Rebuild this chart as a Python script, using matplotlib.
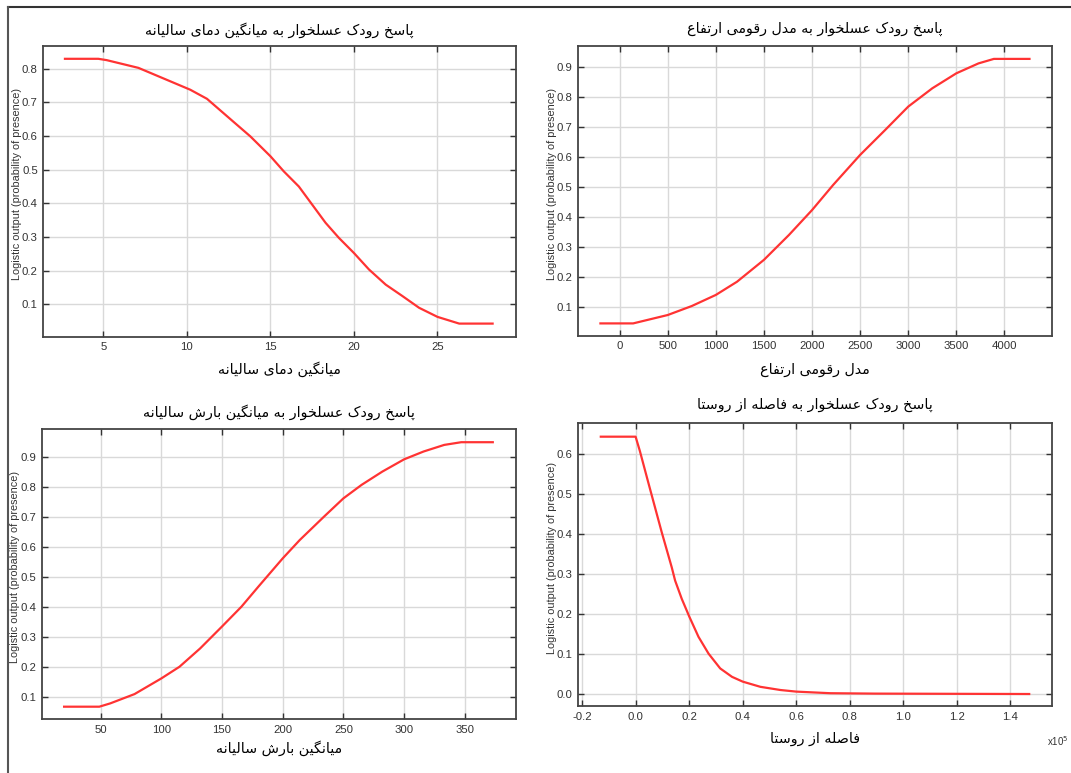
import numpy as np
import matplotlib
matplotlib.use("Agg")
import matplotlib.pyplot as plt
from matplotlib.ticker import FuncFormatter

# ---- data ----
temp_x = [2.7, 4.7, 5.2, 7.1, 10.2, 11.2, 12.8, 13.8, 15.0, 15.8, 16.7, 17.5,
          18.3, 19.1, 20.0, 20.9, 21.9, 22.9, 23.9, 25.0, 26.3, 28.3]
temp_y = [0.83, 0.83, 0.826, 0.803, 0.738, 0.711, 0.642, 0.599, 0.54, 0.495,
          0.45, 0.396, 0.342, 0.297, 0.252, 0.203, 0.158, 0.124, 0.089, 0.062, 0.042, 0.042]

dem_x = [-200, 140, 500, 750, 1000, 1220, 1500, 1760, 2000, 2220, 2500, 2760, 3000,
         3250, 3500, 3730, 3890, 4260]
dem_y = [0.044, 0.044, 0.072, 0.102, 0.139, 0.183, 0.256, 0.339, 0.422, 0.506, 0.606,
         0.689, 0.767, 0.828, 0.878, 0.911, 0.926, 0.926]

rain_x = [20, 49, 58, 78, 100, 115, 132, 150, 166, 180, 200, 214, 234, 250, 265, 282,
          300, 316, 333, 347, 373]
rain_y = [0.069, 0.069, 0.08, 0.111, 0.163, 0.202, 0.263, 0.336, 0.402, 0.469, 0.563,
          0.624, 0.702, 0.763, 0.808, 0.852, 0.893, 0.919, 0.941, 0.95, 0.95]

dist_x = [-13000, 0, 1600, 4750, 7250, 9750, 13500, 14750, 17250, 20100, 23500, 27250,
          31600, 36000, 40000, 46600, 54100, 60000, 72700, 89400, 147000]
dist_y = [0.644, 0.644, 0.608, 0.529, 0.467, 0.405, 0.317, 0.284, 0.238, 0.193, 0.143,
          0.101, 0.064, 0.043, 0.031, 0.018, 0.010, 0.006, 0.002, 0.001, 0.0]

ylab = "Logistic output (probability of presence)"


# ---- tiny persian shaper (no arabic_reshaper here) ----
# letter: (isolated, final, initial, medial)
FORMS = {
    'ا': (0xFE8D, 0xFE8E, None, None), 'ب': (0xFE8F, 0xFE90, 0xFE91, 0xFE92),
    'پ': (0xFB56, 0xFB57, 0xFB58, 0xFB59), 'ت': (0xFE95, 0xFE96, 0xFE97, 0xFE98),
    'خ': (0xFEA5, 0xFEA6, 0xFEA7, 0xFEA8), 'د': (0xFEA9, 0xFEAA, None, None),
    'ر': (0xFEAD, 0xFEAE, None, None), 'ز': (0xFEAF, 0xFEB0, None, None),
    'س': (0xFEB1, 0xFEB2, 0xFEB3, 0xFEB4), 'ش': (0xFEB5, 0xFEB6, 0xFEB7, 0xFEB8),
    'ص': (0xFEB9, 0xFEBA, 0xFEBB, 0xFEBC), 'ع': (0xFEC9, 0xFECA, 0xFECB, 0xFECC),
    'ف': (0xFED1, 0xFED2, 0xFED3, 0xFED4), 'ق': (0xFED5, 0xFED6, 0xFED7, 0xFED8),
    'ک': (0xFB8E, 0xFB8F, 0xFB90, 0xFB91), 'گ': (0xFB92, 0xFB93, 0xFB94, 0xFB95),
    'ل': (0xFEDD, 0xFEDE, 0xFEDF, 0xFEE0), 'م': (0xFEE1, 0xFEE2, 0xFEE3, 0xFEE4),
    'ن': (0xFEE5, 0xFEE6, 0xFEE7, 0xFEE8), 'و': (0xFEED, 0xFEEE, None, None),
    'ه': (0xFEE9, 0xFEEA, 0xFEEB, 0xFEEC), 'ی': (0xFBFC, 0xFBFD, 0xFBFE, 0xFBFF),
}


def fa(s):
    out = []
    for i, c in enumerate(s):
        if c not in FORMS:
            out.append(c)
            continue
        prev = s[i - 1] if i > 0 else ' '
        nxt = s[i + 1] if i + 1 < len(s) else ' '
        jp = prev in FORMS and FORMS[prev][2] is not None
        jn = nxt in FORMS and FORMS[c][2] is not None
        f = FORMS[c]
        if jp and jn:
            g = f[3]
        elif jp:
            g = f[1]
        elif jn:
            g = f[2]
        else:
            g = f[0]
        out.append(chr(g))
    return ''.join(out[::-1])


plt.rcParams['font.family'] = ['Liberation Sans', 'DejaVu Sans']
fig = plt.figure(figsize=(10.71, 7.73), dpi=100)

# box = left, top, right, bottom in pixels; ty / xy = title / xlabel centre in pixels
panels = [
    (temp_x, temp_y, "پاسخ رودک عسلخوار به میانگین دمای سالیانه", "میانگین دمای سالیانه",
     [43.4, 45.7, 515.5, 336.7], 30, 369, (1.41, 29.67), (0.003, 0.869),
     [5, 10, 15, 20, 25], np.arange(0.1, 0.85, 0.1)),
    (dem_x, dem_y, "پاسخ رودک عسلخوار به مدل رقومی ارتفاع", "مدل رقومی ارتفاع",
     [578.3, 45.7, 1051.7, 335.7], 28.3, 370, (-430, 4491), (0.003, 0.97),
     np.arange(0, 4001, 500), np.arange(0.1, 0.95, 0.1)),
    (rain_x, rain_y, "پاسخ رودک عسلخوار به میانگین بارش سالیانه", "میانگین بارش سالیانه",
     [42, 429, 515.5, 719.3], 411.7, 748.3, (1.8, 391.7), (0.027, 0.994),
     np.arange(50, 351, 50), np.arange(0.1, 0.95, 0.1)),
    (dist_x, dist_y, "پاسخ رودک عسلخوار به فاصله از روستا", "فاصله از روستا",
     [578.3, 422.7, 1051.7, 706], 405, 739, (-21400, 155400), (-0.030, 0.679),
     np.arange(-20000, 140001, 20000), np.arange(0.0, 0.65, 0.1)),
]

W, H = 1071, 773
for i, (x, y, title, xl, box, ty, xy, xlim, ylim, xt, yt) in enumerate(panels):
    l, t, r, b = box
    w, h = r - l, b - t
    ax = fig.add_axes([l / W, 1 - b / H, w / W, h / H])
    ax.plot(x, y, color='#ff3333', lw=1.6)
    ax.set_xlim(*xlim)
    ax.set_ylim(*ylim)
    ax.set_xticks(xt)
    ax.set_yticks(yt)
    ax.grid(True, color='#d9d9d9', lw=1.0)
    ax.set_axisbelow(True)
    ax.tick_params(direction='in', length=4, width=1, color='#333333',
                   labelsize=8.2, labelcolor='#333333', top=True, right=True, pad=4)
    for sp in ax.spines.values():
        sp.set_color('#444444')
        sp.set_linewidth(1.3)
    ax.yaxis.set_major_formatter(FuncFormatter(lambda v, p: "%.1f" % v))
    if i == 3:
        ax.xaxis.set_major_formatter(FuncFormatter(lambda v, p: "%.1f" % (v / 1e5)))
    ax.text(0.5, 1 + (t - ty) / h, fa(title), transform=ax.transAxes, ha='center',
            va='center', fontsize=10.3, family='DejaVu Sans')
    ax.set_xlabel(fa(xl), fontsize=10.3, family='DejaVu Sans', va='center')
    ax.xaxis.set_label_coords(0.5, -(xy - b) / h)
    ax.set_ylabel(ylab, fontsize=7.8, color='#333333', va='center')
    ax.yaxis.set_label_coords(-26.5 / w, 0.524)

fig.text(1047 / W, 1 - 746 / H, "x10$^5$", fontsize=7, color='#333333')

# screenshot frame lines
fig.add_artist(plt.Line2D([8 / W, 1], [1 - 7 / H, 1 - 7 / H], color='#333333', lw=1.5))
fig.add_artist(plt.Line2D([8 / W, 8 / W], [0, 1 - 7 / H], color='#555555', lw=1.5))

fig.savefig("out.png", dpi=100)
